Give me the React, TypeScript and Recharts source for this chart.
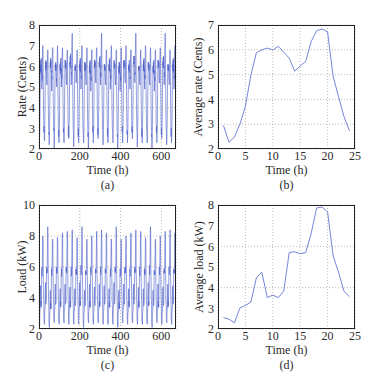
import { LineChart, Line, XAxis, YAxis, CartesianGrid } from "recharts";

// hourly averages, hour 1..24
const hours = [1, 2, 3, 4, 5, 6, 7, 8, 9, 10, 11, 12, 13, 14, 15, 16, 17, 18, 19, 20, 21, 22, 23, 24];
const avgRate = [2.95, 2.27, 2.48, 3.0, 3.72, 4.98, 5.88, 6.0, 6.07, 5.99, 6.14, 5.9, 5.66, 5.14, 5.35, 5.53, 6.33, 6.77, 6.84, 6.72, 4.94, 4.1, 3.3, 2.73];
const avgLoad = [2.55, 2.48, 2.3, 3.02, 3.14, 3.3, 4.48, 4.75, 3.52, 3.64, 3.52, 3.84, 5.7, 5.74, 5.64, 5.7, 6.62, 7.86, 7.9, 7.66, 5.55, 4.74, 3.82, 3.56];

// 28 days of hourly rate (Cents)
const rateByDay = [
  [2.9, 2.3, 2.6, 3.1, 3.9, 5.2, 6.1, 5.7, 6.3, 5.8, 6.4, 5.6, 5.9, 4.9, 5.6, 5.3, 6.5, 6.9, 7.0, 6.6, 5.0, 4.1, 3.3, 2.8],
  [3.1, 2.5, 2.4, 2.9, 3.6, 4.8, 5.6, 6.2, 5.8, 6.3, 5.9, 6.2, 5.4, 5.3, 5.1, 5.8, 6.2, 6.6, 6.8, 6.7, 4.7, 3.9, 3.1, 2.7],
  [2.8, 2.2, 2.5, 3.0, 4.0, 5.1, 6.2, 5.9, 6.4, 6.0, 6.3, 5.7, 5.8, 4.8, 5.5, 5.4, 6.5, 6.9, 6.9, 6.9, 5.2, 4.3, 3.5, 2.9],
  [3.0, 2.0, 2.2, 2.7, 3.5, 4.7, 5.7, 6.1, 5.8, 6.2, 5.8, 6.1, 5.3, 5.4, 5.0, 5.7, 6.1, 6.8, 7.0, 6.6, 4.8, 3.9, 3.1, 2.6],
  [2.9, 2.3, 2.6, 3.1, 3.9, 5.3, 6.1, 5.8, 6.2, 5.7, 6.4, 5.6, 5.9, 5.0, 5.6, 5.4, 6.5, 6.7, 6.9, 6.8, 5.1, 4.2, 3.4, 2.8],
  [3.0, 2.4, 2.3, 2.8, 3.6, 4.8, 5.7, 6.3, 5.9, 6.3, 5.9, 6.2, 5.4, 5.3, 5.1, 5.7, 6.2, 6.6, 6.8, 6.5, 4.8, 4.0, 3.2, 2.6],
  [3.1, 2.5, 2.7, 3.2, 4.0, 5.3, 6.2, 6.0, 6.5, 6.1, 6.6, 5.9, 6.0, 5.1, 5.7, 5.6, 6.9, 7.3, 7.6, 7.1, 5.3, 4.4, 3.5, 2.9],
  [2.8, 2.1, 2.4, 3.0, 3.8, 4.8, 5.6, 6.0, 5.8, 6.1, 5.8, 6.0, 5.5, 5.2, 5.2, 5.6, 6.2, 6.6, 6.8, 6.5, 4.8, 3.9, 3.1, 2.6],
  [3.0, 2.3, 2.6, 3.1, 3.9, 5.1, 6.1, 5.8, 6.3, 5.8, 6.4, 5.7, 5.9, 4.9, 5.6, 5.4, 6.5, 7.0, 6.9, 6.9, 5.1, 4.2, 3.4, 2.9],
  [2.9, 2.4, 2.3, 2.8, 3.6, 4.9, 5.7, 6.2, 5.8, 6.2, 5.8, 6.1, 5.4, 5.4, 5.1, 5.7, 6.2, 6.7, 6.9, 6.7, 4.8, 4.0, 3.2, 2.6],
  [2.8, 2.0, 2.3, 2.9, 3.8, 5.0, 6.0, 5.7, 6.2, 5.7, 6.3, 5.6, 5.8, 4.8, 5.5, 5.3, 6.3, 6.7, 6.8, 6.8, 5.0, 4.1, 3.3, 2.8],
  [3.1, 2.3, 2.5, 2.9, 3.7, 5.0, 5.8, 6.3, 5.9, 6.3, 6.0, 6.2, 5.5, 5.3, 5.2, 5.8, 6.4, 6.8, 6.9, 6.7, 4.9, 4.1, 3.2, 2.7],
  [3.0, 2.5, 2.7, 3.2, 4.0, 5.2, 6.2, 6.0, 6.4, 6.0, 6.5, 5.9, 6.0, 5.1, 5.7, 5.5, 6.8, 7.2, 7.6, 7.0, 5.2, 4.3, 3.5, 2.9],
  [2.8, 2.2, 2.4, 2.9, 3.6, 4.8, 5.6, 6.1, 5.8, 6.1, 5.8, 6.0, 5.4, 5.3, 5.1, 5.7, 6.2, 6.8, 6.7, 6.6, 4.8, 4.0, 3.2, 2.6],
  [3.0, 2.3, 2.6, 3.1, 3.9, 5.2, 6.1, 5.8, 6.3, 5.8, 6.4, 5.7, 5.9, 4.9, 5.6, 5.4, 6.5, 6.8, 7.0, 6.8, 5.1, 4.2, 3.4, 2.9],
  [2.9, 2.4, 2.3, 2.8, 3.6, 4.9, 5.7, 6.3, 5.9, 6.2, 5.9, 6.1, 5.5, 5.4, 5.1, 5.6, 6.2, 6.6, 6.8, 6.6, 4.8, 3.9, 3.1, 2.6],
  [2.7, 2.0, 2.2, 2.8, 3.7, 5.0, 6.0, 5.7, 6.2, 5.7, 6.2, 5.6, 5.7, 4.8, 5.5, 5.3, 6.3, 6.8, 6.9, 6.8, 4.9, 4.1, 3.3, 2.8],
  [3.1, 2.3, 2.5, 2.9, 3.7, 5.0, 5.8, 6.3, 5.9, 6.3, 6.0, 6.2, 5.5, 5.4, 5.2, 5.8, 6.4, 6.9, 7.0, 6.7, 4.9, 4.1, 3.3, 2.7],
  [2.9, 2.3, 2.6, 3.0, 3.8, 5.1, 6.0, 5.8, 6.1, 5.8, 6.3, 5.7, 5.8, 4.9, 5.5, 5.4, 6.4, 6.7, 6.8, 6.8, 5.0, 4.2, 3.4, 2.8],
  [3.1, 2.5, 2.7, 3.2, 4.0, 5.2, 6.2, 6.1, 6.5, 6.1, 6.5, 6.0, 6.0, 5.2, 5.7, 5.6, 6.9, 7.3, 7.6, 7.1, 5.3, 4.4, 3.5, 2.9],
  [2.8, 2.1, 2.4, 2.9, 3.6, 4.8, 5.6, 6.0, 5.8, 6.0, 5.8, 6.0, 5.4, 5.2, 5.1, 5.6, 6.2, 6.6, 6.8, 6.5, 4.8, 3.9, 3.1, 2.6],
  [3.0, 2.3, 2.6, 3.1, 3.9, 5.1, 6.1, 5.8, 6.3, 5.8, 6.4, 5.7, 5.9, 4.9, 5.6, 5.4, 6.5, 7.0, 6.9, 6.9, 5.1, 4.2, 3.4, 2.9],
  [2.9, 2.4, 2.3, 2.8, 3.6, 4.9, 5.7, 6.2, 5.9, 6.2, 5.8, 6.1, 5.4, 5.4, 5.1, 5.7, 6.2, 6.7, 6.9, 6.7, 4.8, 4.0, 3.2, 2.6],
  [2.7, 2.0, 2.3, 2.9, 3.8, 5.0, 6.0, 5.7, 6.2, 5.7, 6.3, 5.6, 5.8, 4.8, 5.5, 5.3, 6.3, 6.7, 6.8, 6.8, 5.0, 4.1, 3.3, 2.8],
  [3.1, 2.3, 2.5, 2.9, 3.7, 5.0, 5.8, 6.3, 5.9, 6.3, 6.0, 6.2, 5.5, 5.3, 5.2, 5.8, 6.4, 6.8, 6.9, 6.7, 4.9, 4.1, 3.2, 2.7],
  [3.0, 2.5, 2.7, 3.2, 4.0, 5.2, 6.2, 6.0, 6.4, 6.0, 6.5, 5.9, 6.0, 5.1, 5.7, 5.5, 6.8, 7.2, 7.6, 7.0, 5.2, 4.3, 3.5, 2.9],
  [2.8, 2.2, 2.4, 2.9, 3.6, 4.8, 5.6, 6.1, 5.8, 6.1, 5.8, 6.0, 5.4, 5.3, 5.1, 5.7, 6.2, 6.8, 6.7, 6.6, 4.8, 4.0, 3.2, 2.6],
  [3.0, 2.3, 2.6, 3.1, 3.9, 5.2, 6.1, 5.8, 6.3, 5.8, 6.4, 5.7, 5.9, 4.9, 5.6, 5.4, 6.5, 6.8, 7.0, 6.8, 5.1, 4.2, 3.4, 2.9],
];

// 28 days of hourly load (kW)
const loadByDay = [
  [2.6, 2.5, 2.3, 3.0, 3.2, 3.3, 4.5, 4.8, 3.5, 3.8, 3.4, 3.9, 5.5, 6.0, 5.4, 5.9, 6.6, 7.9, 8.0, 7.7, 5.6, 4.7, 3.9, 3.6],
  [2.5, 2.4, 2.3, 3.1, 3.3, 3.4, 4.7, 5.0, 3.7, 3.6, 3.7, 3.8, 6.0, 5.6, 5.9, 5.6, 6.8, 8.3, 8.6, 8.1, 5.7, 4.8, 3.9, 3.5],
  [2.4, 2.3, 2.1, 2.9, 3.0, 3.2, 4.3, 4.5, 3.3, 3.7, 3.3, 3.9, 5.4, 5.9, 5.4, 5.8, 6.5, 7.7, 7.8, 7.6, 5.4, 4.6, 3.8, 3.5],
  [2.6, 2.5, 2.4, 3.1, 3.3, 3.3, 4.6, 4.9, 3.6, 3.6, 3.6, 3.8, 6.0, 5.6, 5.9, 5.6, 6.6, 7.9, 7.9, 7.7, 5.6, 4.8, 3.9, 3.6],
  [2.5, 2.5, 2.3, 3.0, 3.1, 3.3, 4.4, 4.6, 3.5, 3.8, 3.4, 3.9, 5.5, 5.9, 5.4, 5.8, 6.6, 7.9, 8.2, 7.8, 5.5, 4.7, 3.8, 3.6],
  [2.6, 2.5, 2.4, 3.1, 3.2, 3.4, 4.7, 4.9, 3.6, 3.6, 3.7, 3.8, 6.0, 5.7, 5.9, 5.6, 6.7, 8.0, 8.3, 7.9, 5.6, 4.8, 3.9, 3.6],
  [2.6, 2.5, 2.3, 3.0, 3.2, 3.3, 4.5, 4.7, 3.4, 3.8, 3.4, 4.0, 5.5, 6.0, 5.4, 5.9, 6.6, 8.0, 8.4, 7.8, 5.5, 4.7, 3.9, 3.6],
  [2.5, 2.5, 2.3, 3.0, 3.1, 3.3, 4.3, 4.6, 3.6, 3.5, 3.6, 3.7, 5.9, 5.5, 5.8, 5.5, 6.5, 7.8, 7.9, 7.6, 5.5, 4.7, 3.8, 3.5],
  [2.5, 2.4, 2.3, 3.1, 3.3, 3.4, 4.7, 5.0, 3.5, 3.8, 3.5, 4.0, 5.6, 6.1, 5.5, 5.9, 6.8, 8.3, 8.6, 8.1, 5.7, 4.8, 3.9, 3.6],
  [2.4, 2.3, 2.1, 2.9, 3.0, 3.2, 4.3, 4.5, 3.5, 3.5, 3.5, 3.7, 5.8, 5.5, 5.7, 5.5, 6.5, 7.7, 7.8, 7.5, 5.4, 4.6, 3.8, 3.5],
  [2.6, 2.5, 2.4, 3.1, 3.2, 3.3, 4.6, 4.9, 3.4, 3.8, 3.4, 3.9, 5.5, 6.0, 5.5, 5.9, 6.6, 7.9, 8.0, 7.7, 5.6, 4.8, 3.9, 3.6],
  [2.5, 2.5, 2.3, 3.0, 3.1, 3.3, 4.4, 4.7, 3.7, 3.5, 3.6, 3.7, 5.9, 5.6, 5.8, 5.6, 6.6, 8.0, 8.3, 7.8, 5.5, 4.7, 3.8, 3.6],
  [2.6, 2.5, 2.4, 3.1, 3.3, 3.4, 4.7, 4.9, 3.4, 3.8, 3.5, 4.0, 5.6, 6.0, 5.5, 5.9, 6.7, 8.1, 8.4, 7.9, 5.6, 4.8, 3.9, 3.6],
  [2.6, 2.5, 2.3, 3.0, 3.2, 3.3, 4.5, 4.8, 3.6, 3.6, 3.6, 3.8, 5.9, 5.6, 5.8, 5.6, 6.6, 8.0, 8.2, 7.8, 5.5, 4.7, 3.9, 3.6],
  [2.5, 2.5, 2.3, 3.0, 3.1, 3.3, 4.3, 4.6, 3.4, 3.7, 3.4, 3.9, 5.5, 5.9, 5.4, 5.8, 6.5, 7.8, 7.8, 7.6, 5.5, 4.7, 3.8, 3.5],
  [2.5, 2.4, 2.3, 3.1, 3.3, 3.4, 4.7, 5.0, 3.7, 3.6, 3.7, 3.8, 6.0, 5.7, 5.9, 5.6, 6.8, 8.3, 8.6, 8.1, 5.7, 4.8, 3.9, 3.6],
  [2.4, 2.3, 2.1, 2.9, 3.0, 3.2, 4.3, 4.5, 3.3, 3.7, 3.3, 3.9, 5.4, 5.9, 5.4, 5.8, 6.5, 7.7, 7.8, 7.6, 5.4, 4.6, 3.8, 3.5],
  [2.6, 2.5, 2.4, 3.1, 3.3, 3.3, 4.6, 4.9, 3.6, 3.6, 3.6, 3.8, 6.0, 5.6, 5.9, 5.6, 6.6, 7.9, 8.0, 7.7, 5.6, 4.8, 3.9, 3.6],
  [2.5, 2.5, 2.3, 3.0, 3.1, 3.3, 4.4, 4.6, 3.5, 3.8, 3.4, 3.9, 5.5, 5.9, 5.4, 5.8, 6.6, 7.9, 8.2, 7.8, 5.5, 4.7, 3.8, 3.6],
  [2.6, 2.5, 2.4, 3.1, 3.2, 3.4, 4.7, 4.9, 3.6, 3.6, 3.7, 3.8, 6.0, 5.7, 5.9, 5.6, 6.7, 8.0, 8.4, 7.9, 5.6, 4.8, 3.9, 3.6],
  [2.6, 2.5, 2.3, 3.0, 3.2, 3.3, 4.5, 4.7, 3.4, 3.8, 3.4, 4.0, 5.5, 6.0, 5.4, 5.9, 6.6, 8.0, 8.3, 7.8, 5.5, 4.7, 3.9, 3.6],
  [2.5, 2.5, 2.3, 3.0, 3.1, 3.3, 4.3, 4.6, 3.6, 3.5, 3.6, 3.7, 5.9, 5.5, 5.8, 5.5, 6.5, 7.8, 7.9, 7.6, 5.5, 4.7, 3.8, 3.5],
  [2.5, 2.4, 2.3, 3.1, 3.3, 3.4, 4.7, 5.0, 3.5, 3.8, 3.5, 4.0, 5.6, 6.1, 5.5, 5.9, 6.8, 8.3, 8.6, 8.1, 5.7, 4.8, 3.9, 3.6],
  [2.4, 2.3, 2.1, 2.9, 3.0, 3.2, 4.3, 4.5, 3.5, 3.5, 3.5, 3.7, 5.8, 5.5, 5.7, 5.5, 6.5, 7.7, 7.8, 7.5, 5.4, 4.6, 3.8, 3.5],
  [2.6, 2.5, 2.4, 3.1, 3.2, 3.3, 4.6, 4.9, 3.4, 3.8, 3.4, 3.9, 5.5, 6.0, 5.5, 5.9, 6.6, 7.9, 8.0, 7.7, 5.6, 4.8, 3.9, 3.6],
  [2.5, 2.5, 2.3, 3.0, 3.1, 3.3, 4.4, 4.7, 3.7, 3.5, 3.6, 3.7, 5.9, 5.6, 5.8, 5.6, 6.6, 8.0, 8.3, 7.8, 5.5, 4.7, 3.8, 3.6],
  [2.6, 2.5, 2.4, 3.1, 3.3, 3.4, 4.7, 4.9, 3.4, 3.8, 3.5, 4.0, 5.6, 6.0, 5.5, 5.9, 6.7, 8.1, 8.4, 7.9, 5.6, 4.8, 3.9, 3.6],
  [2.6, 2.5, 2.3, 3.0, 3.2, 3.3, 4.5, 4.8, 3.6, 3.6, 3.6, 3.8, 5.9, 5.6, 5.8, 5.6, 6.6, 8.0, 8.2, 7.8, 5.5, 4.7, 3.9, 3.6],
];

const longTicks = [0, 200, 400, 600];
const dayTicks = [0, 5, 10, 15, 20, 25];
const rateTicks = [2, 3, 4, 5, 6, 7, 8];
const avgRateTicks = [2, 3, 4, 5, 6, 7];
const loadTicks = [2, 4, 6, 8, 10];
const avgLoadTicks = [2, 3, 4, 5, 6, 7, 8];

const flatten = (days: number[][]) =>
  days.flat().map((v, i) => ({ t: i + 1, v }));

const rateSeries = flatten(rateByDay);
const loadSeries = flatten(loadByDay);
const avgRateSeries = hours.map((h, i) => ({ t: h, v: avgRate[i] }));
const avgLoadSeries = hours.map((h, i) => ({ t: h, v: avgLoad[i] }));

const FONT = "'Liberation Serif', 'Times New Roman', serif";
const tickStyle = { fontSize: 12, fill: "#2a2a2a", fontFamily: FONT };

type PanelProps = {
  data: { t: number; v: number }[];
  left: number;
  top: number;
  width: number;
  height: number;
  margin: { top: number; right: number; left: number; bottom: number };
  yWidth: number;
  xHeight: number;
  xDomain: [number, number];
  xTicks: number[];
  yDomain: [number, number];
  yTicks: number[];
  yLabel: string;
  labelOffset: number;
  caption: string;
  dense?: boolean;
};

function Panel(p: PanelProps) {
  const plotLeft = p.left + p.margin.left + p.yWidth;
  const plotTop = p.top + p.margin.top;
  const plotW = p.width - p.margin.left - p.margin.right - p.yWidth;
  const plotH = p.height - p.margin.top - p.margin.bottom - p.xHeight;
  return (
    <>
      <div style={{ position: "absolute", left: p.left, top: p.top }}>
        <LineChart width={p.width} height={p.height} data={p.data} margin={p.margin}>
          <CartesianGrid stroke="#aaa" strokeDasharray="1 2" strokeWidth={0.8} />
          <XAxis
            dataKey="t"
            type="number"
            domain={p.xDomain}
            ticks={p.xTicks}
            height={p.xHeight}
            tick={tickStyle}
            tickLine={false}
            tickSize={0}
            tickMargin={2}
            axisLine={false}
            allowDataOverflow
            label={{ value: "Time (h)", position: "insideTop", offset: 16, style: tickStyle }}
          />
          <YAxis
            type="number"
            domain={p.yDomain}
            ticks={p.yTicks}
            width={p.yWidth}
            tick={tickStyle}
            tickLine={false}
            tickSize={0}
            tickMargin={4}
            axisLine={false}
            allowDataOverflow
            label={{
              value: p.yLabel,
              angle: -90,
              position: "insideLeft",
              offset: p.labelOffset,
              style: { ...tickStyle, textAnchor: "middle" },
            }}
          />
          <Line
            type="linear"
            dataKey="v"
            stroke={p.dense ? "#4c5ec8" : "#6677d6"}
            strokeWidth={p.dense ? 0.6 : 0.9}
            dot={false}
            isAnimationActive={false}
          />
        </LineChart>
      </div>
      <div
        style={{
          position: "absolute",
          left: plotLeft,
          top: plotTop,
          width: plotW,
          height: plotH,
          boxSizing: "border-box",
          border: "1px solid #222",
          pointerEvents: "none",
        }}
      />
      <div
        style={{
          position: "absolute",
          left: plotLeft,
          width: plotW,
          top: plotTop + plotH + 30,
          textAlign: "center",
          fontFamily: FONT,
          fontSize: 12,
          lineHeight: "12px",
          color: "#2a2a2a",
        }}
      >
        {p.caption}
      </div>
    </>
  );
}

export default function App() {
  return (
    <div style={{ position: "absolute", left: 0, top: 0, width: 386, height: 378, background: "#fff", fontFamily: FONT }}>
      <Panel
        data={rateSeries}
        left={0}
        top={0}
        width={193}
        height={189}
        margin={{ top: 25, right: 17, left: 0, bottom: 0 }}
        yWidth={39}
        xHeight={40}
        xDomain={[0, 672]}
        xTicks={longTicks}
        yDomain={[2, 8]}
        yTicks={rateTicks}
        yLabel="Rate (Cents)"
        labelOffset={22}
        caption="(a)"
        dense
      />
      <Panel
        data={avgRateSeries}
        left={188}
        top={0}
        width={198}
        height={189}
        margin={{ top: 25, right: 31, left: 0, bottom: 0 }}
        yWidth={30}
        xHeight={40}
        xDomain={[0, 25]}
        xTicks={dayTicks}
        yDomain={[2, 7]}
        yTicks={avgRateTicks}
        yLabel="Average rate (Cents)"
        labelOffset={10}
        caption="(b)"
      />
      <Panel
        data={loadSeries}
        left={0}
        top={189}
        width={193}
        height={189}
        margin={{ top: 16, right: 17, left: 0, bottom: 0 }}
        yWidth={39}
        xHeight={49}
        xDomain={[0, 672]}
        xTicks={longTicks}
        yDomain={[2, 10]}
        yTicks={loadTicks}
        yLabel="Load (kW)"
        labelOffset={22}
        caption="(c)"
        dense
      />
      <Panel
        data={avgLoadSeries}
        left={188}
        top={189}
        width={198}
        height={189}
        margin={{ top: 16, right: 31, left: 0, bottom: 0 }}
        yWidth={30}
        xHeight={49}
        xDomain={[0, 25]}
        xTicks={dayTicks}
        yDomain={[2, 8]}
        yTicks={avgLoadTicks}
        yLabel="Average load (kW)"
        labelOffset={11}
        caption="(d)"
      />
    </div>
  );
}
